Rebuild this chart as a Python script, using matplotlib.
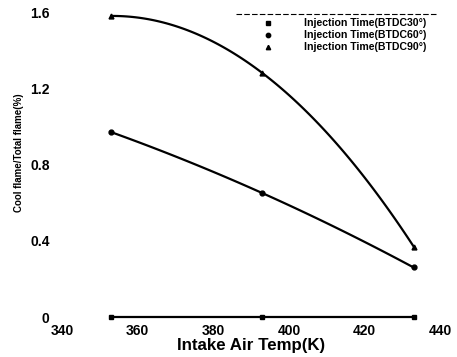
import numpy as np
import matplotlib
matplotlib.use("Agg")
import matplotlib.pyplot as plt

temps = [353, 393, 433]
btdc30 = [0.0, 0.0, 0.0]
btdc60 = [0.97, 0.65, 0.26]
btdc90 = [1.58, 1.28, 0.37]
labels = ["Injection Time(BTDC30°)", "Injection Time(BTDC60°)", "Injection Time(BTDC90°)"]
xticks = [340, 360, 380, 400, 420, 440]
yticks = [0, 0.4, 0.8, 1.2, 1.6]
yticklabels = ["0", "0.4", "0.8", "1.2", "1.6"]

plt.rcParams['font.family'] = ['Liberation Sans', 'DejaVu Sans']
plt.rcParams['font.weight'] = 'bold'

fig = plt.figure(figsize=(4.57, 3.57), dpi=100)
ax = fig.add_axes([0.136, 0.112, 0.827, 0.854])

xs = np.linspace(temps[0], temps[-1], 100)
markers = ['s', 'o', '^']
handles = []
for data, m, lab in zip([btdc30, btdc60, btdc90], markers, labels):
    coef = np.polyfit(temps, data, 2)
    ax.plot(xs, np.polyval(coef, xs), color='black', lw=1.6, clip_on=False)
    h, = ax.plot(temps, data, linestyle='none', marker=m, color='black', ms=3.5, clip_on=False, label=lab)
    handles.append(h)

ax.set_xlim(340, 440)
ax.set_ylim(0, 1.6)
ax.set_xticks(xticks)
ax.set_yticks(yticks)
ax.set_yticklabels(yticklabels)
for s in ax.spines.values():
    s.set_visible(False)
ax.tick_params(axis='x', length=0, labelsize=10, pad=5)
ax.tick_params(axis='y', length=0, labelsize=10, pad=9)
for t in ax.get_xticklabels() + ax.get_yticklabels():
    t.set_fontweight('bold')
ax.set_xlabel("Intake Air Temp(K)", fontsize=12.2, fontweight='bold', labelpad=0)
ax.set_ylabel("Cool flame/Total flame(%)", fontsize=7, fontweight='bold', labelpad=10)
ax.yaxis.set_label_coords(-0.1, 0.54)

leg = ax.legend(handles=handles, loc='upper right', bbox_to_anchor=(0.98, 1.0),
                frameon=False, handletextpad=2.4, labelspacing=0.18, markerscale=0.9,
                borderaxespad=0.2, prop={'weight': 'bold', 'size': 7.6})
ax.plot([0.46, 0.995], [0.993, 0.993], transform=ax.transAxes, color='black', lw=0.8,
        ls=(0, (5, 2)), clip_on=False)

fig.savefig("out.png", dpi=100)
